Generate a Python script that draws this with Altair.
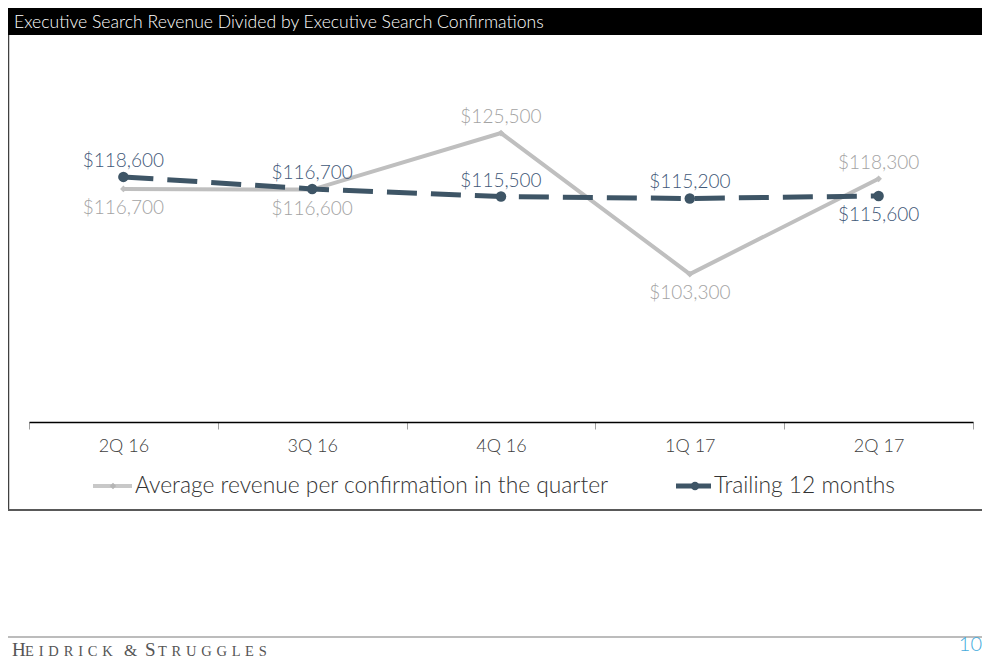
import altair as alt
import pandas as pd

# ---------------- data ----------------
quarters = ["2Q 16", "3Q 16", "4Q 16", "1Q 17", "2Q 17"]
series_names = ["Average revenue per confirmation in the quarter", "Trailing 12 months"]
avg_values = [116700, 116600, 125500, 103300, 118300]
ttm_values = [118600, 116700, 115500, 115200, 115600]
avg_label_pos = ["below", "below", "above", "below", "above"]
ttm_label_pos = ["above", "above", "above", "above", "below"]
title_text = "Executive Search Revenue Divided by Executive Search Confirmations"
footer_parts = ["H", "EIDRICK", "&", "S", "TRUGGLES"]
page_number = "10"

# ---------------- style ----------------
FONT = "Lato"
AVG_COLOR = "#bfbfbf"
AVG_LABEL = "#a3a3a3"
TTM_COLOR = "#3e5566"
TTM_LABEL = "#3f5878"


def make_df(values, pos, name):
    return pd.DataFrame({
        "quarter": quarters,
        "value": values,
        "pos": pos,
        "series": name,
        "label": ["${:,.0f}".format(v) for v in values],
    })


avg_df = make_df(avg_values, avg_label_pos, series_names[0])
ttm_df = make_df(ttm_values, ttm_label_pos, series_names[1])
one = pd.DataFrame({"k": [0]})

x_enc = alt.X(
    "quarter:N", sort=quarters, title=None,
    scale=alt.Scale(paddingInner=0, paddingOuter=0),
    axis=alt.Axis(labelAngle=0, tickBand="extent", domainColor="#000000", domainWidth=1.5,
                  tickColor="#a0a0a0", tickSize=7, tickWidth=1, labelFont=FONT,
                  labelFontSize=18, labelFontWeight=300, labelColor="#404040",
                  labelPadding=8, grid=False),
)
y_enc = alt.Y("value:Q", scale=alt.Scale(domain=[80000, 140000]), axis=None)

avg_line = alt.Chart(avg_df).mark_line(color=AVG_COLOR, strokeWidth=4).encode(x=x_enc, y=y_enc)
avg_pts = alt.Chart(avg_df).mark_point(shape="diamond", filled=True, size=45, color=AVG_COLOR,
                                       opacity=1).encode(x=x_enc, y=y_enc)
ttm_line = alt.Chart(ttm_df).mark_line(color=TTM_COLOR, strokeWidth=5,
                                       strokeDash=[30, 14]).encode(x=x_enc, y=y_enc)
ttm_pts = alt.Chart(ttm_df).mark_circle(size=110, color=TTM_COLOR, opacity=1).encode(x=x_enc, y=y_enc)


def labels(df, color):
    above = alt.Chart(df).transform_filter(alt.datum.pos == "above").mark_text(
        font=FONT, fontSize=19, fontWeight=300, color=color, baseline="alphabetic", dy=-10
    ).encode(x=x_enc, y=y_enc, text="label:N")
    below = alt.Chart(df).transform_filter(alt.datum.pos == "below").mark_text(
        font=FONT, fontSize=19, fontWeight=300, color=color, baseline="alphabetic", dy=25
    ).encode(x=x_enc, y=y_enc, text="label:N")
    return [above, below]


# ---------------- decorations (plot coords: page_x - 29, page_y - 41) ----------------
RIGHT = 953
title_bar = alt.Chart(one).mark_rect(color="#000000").encode(
    x=alt.value(-21), x2=alt.value(RIGHT), y=alt.value(-33), y2=alt.value(-6))
title_txt = alt.Chart(one).mark_text(
    font=FONT, fontSize=17.6, fontWeight=300, color="#ffffff", align="left", baseline="alphabetic"
).encode(x=alt.value(-15), y=alt.value(-13), text=alt.value(title_text))
left_border = alt.Chart(one).mark_rule(color="#404040", strokeWidth=1.5).encode(
    x=alt.value(-20.5), y=alt.value(-6), y2=alt.value(469))
bottom_border = alt.Chart(one).mark_rule(color="#595959", strokeWidth=2).encode(
    x=alt.value(-21), x2=alt.value(RIGHT), y=alt.value(469))
footer_line = alt.Chart(one).mark_rule(color="#a6a6a6", strokeWidth=1.5).encode(
    x=alt.value(-21), x2=alt.value(RIGHT), y=alt.value(596))

footer_layers = []
footer_x = [-17, -4, 95, 116, 129]
footer_size = [19, 14.5, 17, 19, 14.5]
for part, fx, fs in zip(footer_parts, footer_x, footer_size):
    txt = part if len(part) == 1 else " \u200a".join(part)
    footer_layers.append(alt.Chart(one).mark_text(
        font="Liberation Serif", fontSize=fs, color="#555555",
        align="left", baseline="alphabetic"
    ).encode(x=alt.value(fx), y=alt.value(615), text=alt.value(txt)))

page_num = alt.Chart(one).mark_text(
    font=FONT, fontSize=20, fontWeight=300, color="#45abdc", align="right", baseline="alphabetic"
).encode(x=alt.value(953), y=alt.value(610), text=alt.value(page_number))

# legend
leg_avg_line = alt.Chart(one).mark_rule(color="#c8c8c8", strokeWidth=4).encode(
    x=alt.value(64), x2=alt.value(103), y=alt.value(445))
leg_avg_pt = alt.Chart(one).mark_point(shape="diamond", filled=True, size=40, color="#b5b5b5",
                                       opacity=1).encode(x=alt.value(84), y=alt.value(445))
leg_avg_txt = alt.Chart(one).mark_text(
    font=FONT, fontSize=22.8, fontWeight=300, color="#333333", align="left", baseline="alphabetic"
).encode(x=alt.value(106), y=alt.value(452), text=alt.value(series_names[0]))
leg_ttm_line = alt.Chart(one).mark_rule(color=TTM_COLOR, strokeWidth=5).encode(
    x=alt.value(647), x2=alt.value(682), y=alt.value(445))
leg_ttm_pt = alt.Chart(one).mark_circle(size=70, color=TTM_COLOR, opacity=1).encode(
    x=alt.value(666), y=alt.value(445))
leg_ttm_txt = alt.Chart(one).mark_text(
    font=FONT, fontSize=22.8, fontWeight=300, color="#333333", align="left", baseline="alphabetic"
).encode(x=alt.value(685), y=alt.value(452), text=alt.value(series_names[1]))

layers = [title_bar, title_txt, left_border, bottom_border, footer_line, *footer_layers, page_num,
          avg_line, avg_pts, ttm_line, ttm_pts, *labels(avg_df, AVG_LABEL), *labels(ttm_df, TTM_LABEL),
          leg_avg_line, leg_avg_pt, leg_avg_txt, leg_ttm_line, leg_ttm_pt, leg_ttm_txt]

chart = alt.layer(*layers).properties(
    width=944, height=381,
    padding={"left": 21, "top": 33, "right": 9, "bottom": 238},
    autosize=alt.AutoSizeParams(type="none"),
    background="#ffffff",
).configure_view(stroke=None)

chart.save("out.html", embed_options={"renderer": "svg", "actions": False})
